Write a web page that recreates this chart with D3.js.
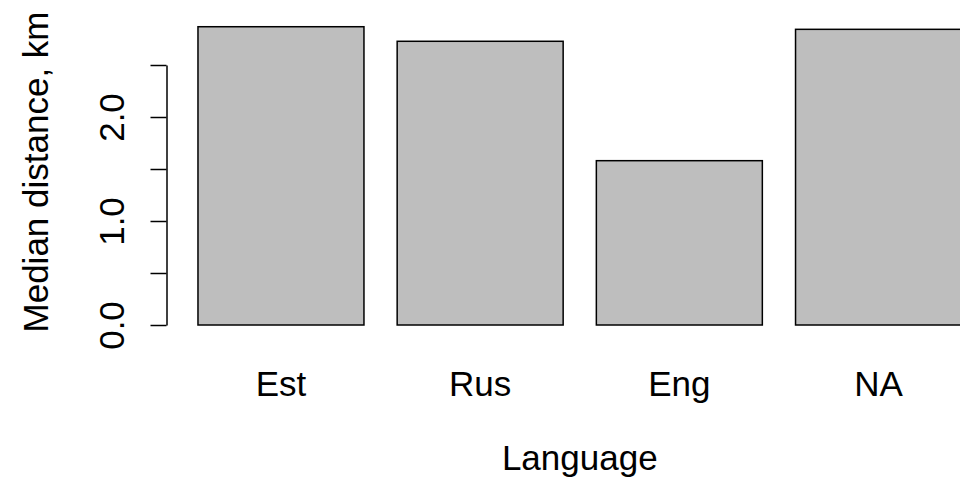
<!DOCTYPE html>
<html>
<head>
<meta charset="utf-8">
<script src="https://cdn.jsdelivr.net/npm/d3@7"></script>
<style>
  body { margin: 0; background: #fff; }
  svg { display: block; font-family: "Liberation Sans", Arial, sans-serif; }
  text { fill: #000; }
</style>
</head>
<body>
<svg width="960" height="482"></svg>
<script>
// median distance per language (km)
const languages = ["Est", "Rus", "Eng", "NA"];
const medians = [2.868, 2.728, 1.58, 2.843];
const yTicks = [0, 0.5, 1, 1.5, 2, 2.5];
const yTickLabels = ["0.0", "", "1.0", "", "2.0", ""];

const svg = d3.select("svg");
const width = parseInt(svg.attr("width"));
const height = parseInt(svg.attr("height"));

// plot region runs off the right edge, like the R device it came from
const plot = { left: 167.5, right: 992, top: 15, bottom: 337 };

// R barplot: width 1, space 0.2, xlim extended by 4%
const x = d3.scaleBand()
  .domain(languages)
  .range([plot.left, plot.right])
  .paddingInner(0.2 / 1.2)
  .paddingOuter(0.153);

const y = d3.scaleLinear()
  .domain([0, 2.5])
  .range([325, 65]);

// bars
svg.append("g")
  .selectAll("rect")
  .data(languages)
  .join("rect")
  .attr("x", d => x(d))
  .attr("y", (d, i) => y(medians[i]))
  .attr("width", x.bandwidth())
  .attr("height", (d, i) => y(0) - y(medians[i]))
  .attr("fill", "#bebebe")
  .attr("stroke", "#000")
  .attr("stroke-width", 1.5);

// y axis
const yAxis = svg.append("g")
  .attr("transform", `translate(${plot.left - 1},0)`)
  .call(d3.axisLeft(y)
    .tickValues(yTicks)
    .tickSize(16)
    .tickSizeOuter(0)
    .tickFormat((d, i) => yTickLabels[i]));

yAxis.select(".domain").attr("stroke", "#000").attr("stroke-width", 1.5);
yAxis.selectAll(".tick line").attr("stroke", "#000").attr("stroke-width", 1.5);
yAxis.selectAll(".tick text")
  .attr("x", null)
  .attr("dy", null)
  .attr("transform", "translate(-43,0) rotate(-90)")
  .attr("text-anchor", "middle")
  .style("font-family", "'Liberation Sans', Arial, sans-serif")
  .style("font-size", "35px")
  .attr("fill", "#000");

// x category labels (no axis line, as in barplot)
svg.append("g")
  .selectAll("text")
  .data(languages)
  .join("text")
  .attr("x", d => x(d) + x.bandwidth() / 2)
  .attr("y", 396)
  .attr("text-anchor", "middle")
  .style("font-size", "35px")
  .text(d => d);

// axis titles
svg.append("text")
  .attr("x", (plot.left + plot.right) / 2)
  .attr("y", 470)
  .attr("text-anchor", "middle")
  .style("font-size", "35px")
  .text("Language");

svg.append("text")
  .attr("transform", `translate(48,${(plot.top + plot.bottom) / 2 - 4}) rotate(-90)`)
  .attr("text-anchor", "middle")
  .style("font-size", "35px")
  .text("Median distance, km");
</script>
</body>
</html>
